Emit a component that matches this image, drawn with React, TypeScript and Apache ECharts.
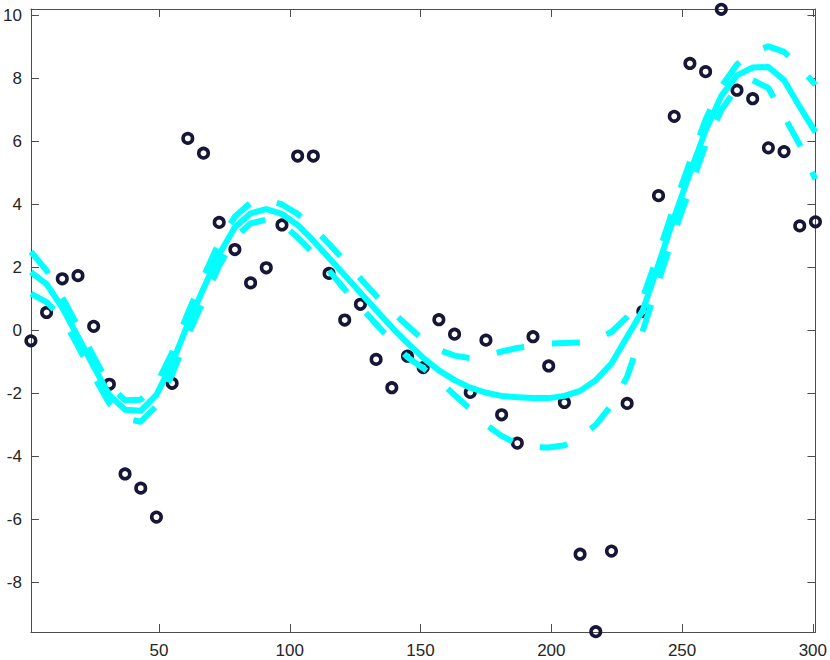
import React, { useEffect, useRef } from 'react';
import * as echarts from 'echarts';

const xValues = [
  1, 7, 13, 19, 25, 31, 37, 43, 49, 55, 61, 67, 73, 79, 85, 91, 97,
  103, 109, 115, 121, 127, 133, 139, 145, 151, 157, 163, 169, 175, 181, 187, 193,
  199, 205, 211, 217, 223, 229, 235, 241, 247, 253, 259, 265, 271, 277, 283, 289,
  295, 301,
];

const observed = [
  -0.33, 0.57, 1.64, 1.74, 0.13, -1.71, -4.56, -5.01, -5.93, -1.68, 6.1, 5.63, 3.43, 2.57, 1.51, 1.99, 3.35,
  5.54, 5.54, 1.81, 0.33, 0.83, -0.92, -1.82, -0.82, -1.18, 0.34, -0.12, -1.97, -0.31, -2.68, -3.58, -0.2,
  -1.13, -2.29, -7.11, -9.57, -7.01, -2.32, 0.6, 4.28, 6.8, 8.48, 8.22, 10.2, 7.63, 7.36, 5.8, 5.68,
  3.32, 3.45,
];

const fitLine = [
  1.85, 1.47, 0.72, -0.2, -1.15, -2.05, -2.52, -2.55, -2.05, -1.04, 0.2, 1.33, 2.42, 3.28, 3.72, 3.85, 3.7,
  3.35, 2.85, 2.3, 1.75, 1.2, 0.65, 0.1, -0.4, -0.87, -1.27, -1.58, -1.82, -1.98, -2.08, -2.12, -2.15,
  -2.15, -2.08, -1.92, -1.58, -1.05, -0.2, 0.64, 2.1, 3.6, 5.0, 6.35, 7.45, 8.1, 8.35, 8.37, 7.95,
  7.1, 6.3,
];

const upperBound = [
  2.5, 1.9, 1.05, 0.12, -0.83, -1.75, -2.22, -2.2, -1.72, -0.7, 0.55, 1.7, 2.8, 3.62, 4.05, 4.15, 4.0,
  3.7, 3.25, 2.75, 2.2, 1.65, 1.1, 0.6, 0.15, -0.3, -0.62, -0.8, -0.88, -0.8, -0.67, -0.56, -0.48,
  -0.42, -0.4, -0.38, -0.28, -0.05, 0.43, 1.05, 2.45, 3.95, 5.35, 6.7, 7.75, 8.45, 8.85, 9.02, 8.85,
  8.37, 7.8,
];

const lowerBound = [
  1.17, 0.9, 0.4, -0.5, -1.45, -2.32, -2.8, -2.9, -2.4, -1.4, -0.15, 0.95, 2.05, 2.95, 3.4, 3.52, 3.4,
  2.95, 2.45, 1.9, 1.3, 0.75, 0.2, -0.35, -0.85, -1.2, -1.6, -2.05, -2.5, -3.0, -3.35, -3.6, -3.7,
  -3.72, -3.65, -3.4, -3.0, -2.37, -1.47, 0.0, 1.55, 3.1, 4.5, 5.9, 7.0, 7.7, 7.95, 7.7, 6.8,
  5.9, 4.8,
];

const xTickValues = [50, 100, 150, 200, 250, 300];
const yTickValues = [-8, -6, -4, -2, 0, 2, 4, 6, 8, 10];

const X_MIN = 1;
const X_MAX = 301;
const Y_MIN = -9.58;
const Y_MAX = 10.21;

export default function App() {
  const ref = useRef<HTMLDivElement>(null);

  useEffect(() => {
    document.body.style.margin = '0';
    if (!ref.current) return;
    const chart = echarts.init(ref.current, null, { renderer: 'svg' });

    const pair = (ys: number[]) => xValues.map((x, i) => [x, ys[i]]);
    const axisColor = '#4d4d4d';
    const labelStyle = {
      color: '#262626',
      fontSize: 17,
      fontFamily: 'Liberation Sans, Arial, sans-serif',
    };
    const lineCommon = {
      axisLine: { show: true, onZero: false, lineStyle: { color: axisColor, width: 1 } },
      splitLine: { show: false },
    };

    const cyan = '#00ffff';

    chart.setOption({
      animation: false,
      backgroundColor: '#ffffff',
      grid: { left: 29, top: 9, width: 788, height: 623, containLabel: false },
      xAxis: [
        {
          type: 'value',
          min: X_MIN,
          max: X_MAX,
          position: 'bottom',
          ...lineCommon,
          axisTick: { show: true, inside: true, length: 8, customValues: xTickValues, lineStyle: { color: axisColor } },
          axisLabel: { show: true, customValues: xTickValues, margin: 10, ...labelStyle },
        },
        {
          type: 'value',
          min: X_MIN,
          max: X_MAX,
          position: 'top',
          ...lineCommon,
          axisTick: { show: true, inside: true, length: 8, customValues: xTickValues, lineStyle: { color: axisColor } },
          axisLabel: { show: false },
        },
      ],
      yAxis: [
        {
          type: 'value',
          min: Y_MIN,
          max: Y_MAX,
          position: 'left',
          ...lineCommon,
          axisTick: { show: true, inside: true, length: 8, customValues: yTickValues, lineStyle: { color: axisColor } },
          axisLabel: { show: true, customValues: yTickValues, margin: 9, ...labelStyle },
        },
        {
          type: 'value',
          min: Y_MIN,
          max: Y_MAX,
          position: 'right',
          ...lineCommon,
          axisTick: { show: true, inside: true, length: 8, customValues: yTickValues, lineStyle: { color: axisColor } },
          axisLabel: { show: false },
        },
      ],
      series: [
        {
          type: 'scatter',
          name: 'data',
          data: pair(observed),
          symbol: 'circle',
          symbolSize: 9.5,
          clip: false,
          silent: true,
          z: 2,
          itemStyle: { color: 'rgba(255,255,255,0)', borderColor: '#161636', borderWidth: 3.6, opacity: 1 },
        },
        {
          type: 'line',
          name: 'fit',
          data: pair(fitLine),
          showSymbol: false,
          symbol: 'none',
          silent: true,
          z: 3,
          lineStyle: { color: cyan, width: 6, cap: 'butt', join: 'round', opacity: 1 },
        },
        {
          type: 'line',
          name: 'upper',
          data: pair(upperBound),
          showSymbol: false,
          symbol: 'none',
          silent: true,
          z: 3,
          lineStyle: { color: cyan, width: 6, type: [28, 28], cap: 'butt', join: 'round', opacity: 1 },
        },
        {
          type: 'line',
          name: 'lower',
          data: pair(lowerBound),
          showSymbol: false,
          symbol: 'none',
          silent: true,
          z: 3,
          lineStyle: { color: cyan, width: 6, type: [28, 28], cap: 'butt', join: 'round', opacity: 1 },
        },
      ],
    });

    return () => chart.dispose();
  }, []);

  return <div ref={ref} style={{ width: 830, height: 660 }} />;
}
